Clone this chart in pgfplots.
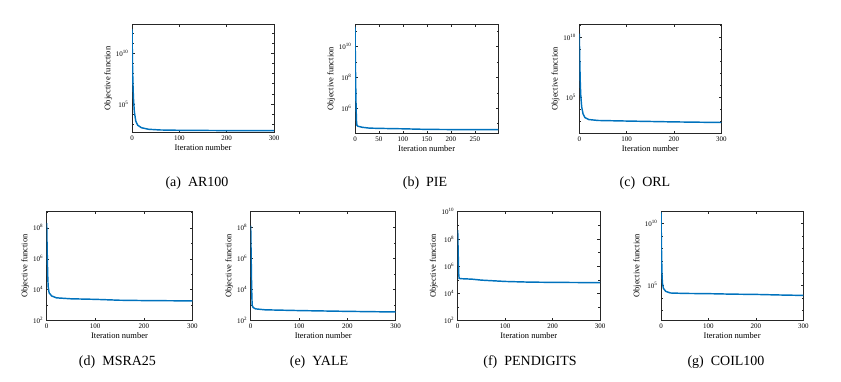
\documentclass[border=0pt]{standalone}
\usepackage{fontspec}
\setmainfont{Liberation Serif}
\usepackage{pgfplots}
\pgfplotsset{compat=1.18}
\definecolor{mblue}{RGB}{0,114,189}
\definecolor{axgray}{RGB}{38,38,38}

\pgfkeys{/pgf/number format/assume math mode=true}
\pgfplotsset{
  objax/.style={
    scale only axis, width=142pt, height=108.5pt,
    xmin=0, xmax=300,
    axis line style={axgray, line width=0.6pt},
    tick style={axgray, line width=0.5pt},
    major tick length=2.6pt, minor tick length=1.6pt,
    tick align=inside,
    xtick={0,100,200,300},
    tick label style={font=\fontsize{7}{8}\selectfont, text=black},
    label style={font=\fontsize{8.5}{9}\selectfont},
    xlabel={Iteration number}, ylabel={Objective function},
    xlabel style={yshift=3pt},
    ylabel style={yshift=-3pt},
  }
}

\begin{document}
\begin{tikzpicture}
\useasboundingbox (0,0) rectangle (841pt,381pt);

% (a) AR100
\begin{semilogyaxis}[objax, at={(132pt,248.3pt)}, anchor=south west,
  ymin=145, ymax=7.4e12,
  ytick={1e5,1e10}, yticklabels={10\textsuperscript{5},10\textsuperscript{10}},
  minor ytick={1e3,1e4,1e6,1e7,1e8,1e9,1e11,1e12}]
\addplot[mblue, line width=1.45pt] coordinates {(0,2.5e12) (1,1e9) (2,1e7) (3,4e5) (5,1.6e4) (8,2.0e3) (12,800) (20,447) (35,316) (60,269) (100,251) (200,234) (300,229)};
\end{semilogyaxis}

% (b) PIE
\begin{semilogyaxis}[objax, at={(355pt,247.7pt)}, anchor=south west, width=143.3pt, height=109pt,
  xmax=299, xtick={0,50,100,150,200,250},
  ymin=2.4e4, ymax=2.8e11,
  ytick={1e6,1e8,1e10}, yticklabels={10\textsuperscript{6},10\textsuperscript{8},10\textsuperscript{10}},
  minor ytick={1e5,1e7,1e9,1e11}]
\addplot[mblue, line width=1.45pt] coordinates {(0,2e11) (1,3.2e8) (2,3.2e6) (3,1.6e5) (4,7.9e4) (6,6.9e4) (15,5.9e4) (30,5.2e4) (50,5.0e4) (100,4.7e4) (150,4.3e4) (200,4.2e4) (299,4.1e4)};
\end{semilogyaxis}

% (c) ORL
\begin{semilogyaxis}[objax, at={(579.3pt,247.7pt)}, anchor=south west, height=109pt,
  ymin=100, ymax=1.2e11,
  ytick={1e5,1e10}, yticklabels={10\textsuperscript{5},10\textsuperscript{10}},
  minor ytick={1e3,1e4,1e6,1e7,1e8,1e9,1e11}]
\addplot[mblue, line width=1.45pt] coordinates {(0,2e10) (1,1e8) (2,2e6) (3,1.6e5) (5,1.6e4) (8,4e3) (12,2e3) (20,1.4e3) (40,1.17e3) (100,1.05e3) (200,890) (300,794)};
\end{semilogyaxis}

% (d) MSRA25
\begin{semilogyaxis}[objax, at={(46.7pt,60.3pt)}, anchor=south west, width=145.6pt, height=109pt,
  ymin=100, ymax=1.1e9,
  ytick={1e2,1e4,1e6,1e8}, yticklabels={10\textsuperscript{2},10\textsuperscript{4},10\textsuperscript{6},10\textsuperscript{8}},
  minor ytick={1e3,1e5,1e7,1e9}]
\addplot[mblue, line width=1.45pt] coordinates {(0,2e8) (1,3.2e6) (2,1e5) (3,1.6e4) (5,6.3e3) (10,4e3) (20,3e3) (50,2.6e3) (100,2.4e3) (150,2.1e3) (200,2e3) (300,1.9e3)};
\end{semilogyaxis}

% (e) YALE
\begin{semilogyaxis}[objax, at={(250.7pt,60.3pt)}, anchor=south west, width=145pt, height=109pt,
  ymin=100, ymax=1e9,
  ytick={1e2,1e4,1e6,1e8}, yticklabels={10\textsuperscript{2},10\textsuperscript{4},10\textsuperscript{6},10\textsuperscript{8}},
  minor ytick={1e3,1e5,1e7}]
\addplot[mblue, line width=1.45pt] coordinates {(0,1.26e8) (1,1e6) (2,1e4) (3,1e3) (5,708) (10,575) (30,500) (100,447) (200,398) (300,363)};
\end{semilogyaxis}

% (f) PENDIGITS
\begin{semilogyaxis}[objax, at={(457.7pt,60.3pt)}, anchor=south west, width=142.3pt, height=109pt,
  ymin=100, ymax=1e10,
  ytick={1e2,1e4,1e6,1e8,1e10}, yticklabels={10\textsuperscript{2},10\textsuperscript{4},10\textsuperscript{6},10\textsuperscript{8},10\textsuperscript{10}},
  minor ytick={1e3,1e5,1e7,1e9}]
\addplot[mblue, line width=1.45pt] coordinates {(0,4.5e8) (1,1e7) (2,3.2e5) (3,1.26e5) (10,1.2e5) (30,1.12e5) (50,9.5e4) (100,7.6e4) (150,6.8e4) (200,6.5e4) (300,6.2e4)};
\end{semilogyaxis}

% (g) COIL100
\begin{semilogyaxis}[objax, at={(661pt,60.3pt)}, anchor=south west, width=142.3pt, height=109.7pt,
  ymin=155, ymax=1e11,
  ytick={1e5,1e10}, yticklabels={10\textsuperscript{5},10\textsuperscript{10}},
  minor ytick={1e3,1e4,1e6,1e7,1e8,1e9}]
\addplot[mblue, line width=1.45pt] coordinates {(0,8e10) (1,1e8) (2,1e6) (3,1.6e5) (5,6.3e4) (10,3.5e4) (20,2.6e4) (50,2.4e4) (100,2.3e4) (150,2.1e4) (200,2e4) (250,1.8e4) (300,1.66e4)};
\end{semilogyaxis}

% captions
\begin{scope}[every node/.style={font=\fontsize{14}{16}\selectfont, inner sep=0pt}]
\node at (197pt,198pt) {(a)\enspace AR100};
\node at (425pt,198pt) {(b)\enspace PIE};
\node at (645pt,198pt) {(c)\enspace ORL};
\node at (117.5pt,19pt) {(d)\enspace MSRA25};
\node at (319pt,19pt) {(e)\enspace YALE};
\node at (530pt,19pt) {(f)\enspace PENDIGITS};
\node at (726pt,19pt) {(g)\enspace COIL100};
\end{scope}
\end{tikzpicture}
\end{document}
